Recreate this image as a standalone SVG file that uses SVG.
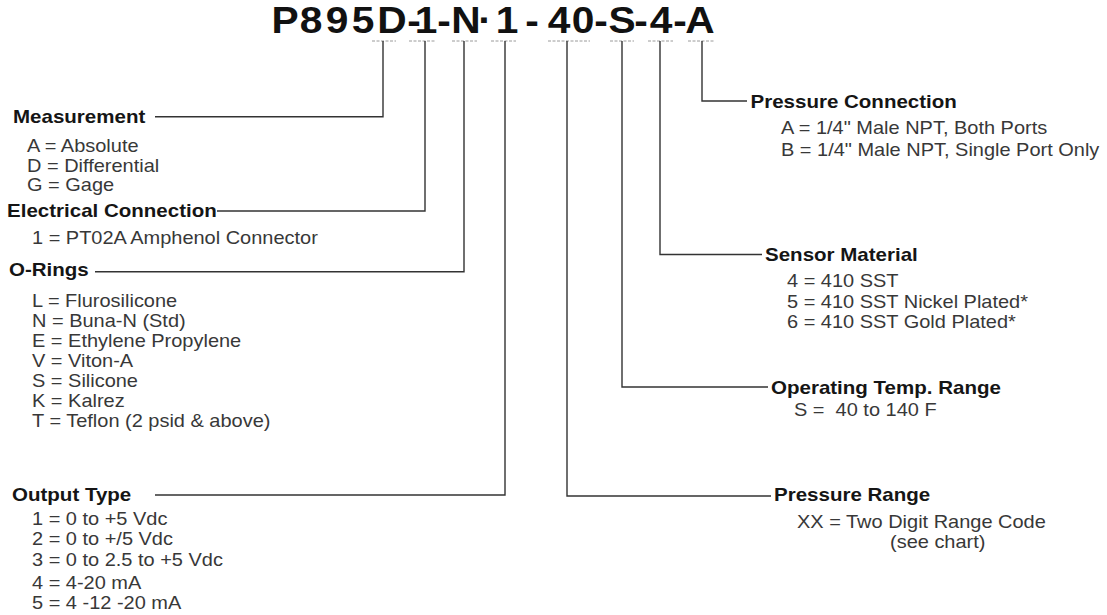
<svg xmlns="http://www.w3.org/2000/svg" width="1107" height="615" viewBox="0 0 1107 615">
  <style>
    .h { font-family: "Liberation Sans", Arial, sans-serif; font-weight: bold; font-size: 18px; fill: #151515; }
    .t { font-family: "Liberation Sans", Arial, sans-serif; font-size: 18px; fill: #383838; }
    .title { font-family: "Liberation Sans", Arial, sans-serif; font-weight: bold; font-size: 37px; fill: #111; text-anchor: middle; }
    .ln { fill: none; stroke: #333; stroke-width: 1.4; }
    .tick { fill: none; stroke: #9a9a9a; stroke-width: 1; stroke-dasharray: 3 1.5; }
  </style>
  <rect width="1107" height="615" fill="#fff"/>

  <g id="title">
    <text class="title" transform="translate(0 33) scale(1.1 1)" y="0" x="259.09 282.73 306.36 330 356.36 376.5 387.27 403.64 423.64 440.91 460.91 472.73 483.64 495.45 508.18 530 546.36 565.45 582.73 600.91 618.18 636.36">P895D-1-N·1 - 40-S-4-A</text>
  </g>

  <g id="connectors">
    <g class="tick">
      <line x1="372" y1="41" x2="396" y2="41"/>
      <line x1="409" y1="41" x2="435" y2="41"/>
      <line x1="452" y1="41" x2="477" y2="41"/>
      <line x1="491" y1="41" x2="516" y2="41"/>
      <line x1="548" y1="41" x2="590" y2="41"/>
      <line x1="610" y1="41" x2="634" y2="41"/>
      <line x1="648" y1="41" x2="673" y2="41"/>
      <line x1="688" y1="41" x2="715" y2="41"/>
    </g>
    <path class="ln" d="M383 41 V116.7 H155"/>
    <path class="ln" d="M425 41 V211 H217"/>
    <path class="ln" d="M464 41 V271.7 H95"/>
    <path class="ln" d="M505 41 V495 H155"/>
    <path class="ln" d="M567 41 V496 H771"/>
    <path class="ln" d="M622 41 V387 H768"/>
    <path class="ln" d="M660 41 V254.5 H762"/>
    <path class="ln" d="M702 41 V101 H747"/>
  </g>

  <g id="measurement">
    <text class="h" transform="translate(13 123) scale(1.14 1)">Measurement</text>
    <text class="t" transform="translate(27 152) scale(1.11 1)"><tspan x="0" y="0">A = Absolute</tspan><tspan x="0" y="20">D = Differential</tspan><tspan x="0" y="39">G = Gage</tspan></text>
  </g>

  <g id="electrical-connection">
    <text class="h" transform="translate(7 217) scale(1.14 1)">Electrical Connection</text>
    <text class="t" transform="translate(32 244) scale(1.11 1)">1 = PT02A Amphenol Connector</text>
  </g>

  <g id="o-rings">
    <text class="h" transform="translate(9 276) scale(1.14 1)">O-Rings</text>
    <text class="t" transform="translate(32 307) scale(1.11 1)"><tspan x="0" y="0">L = Flurosilicone</tspan><tspan x="0" y="20">N = Buna-N (Std)</tspan><tspan x="0" y="40">E = Ethylene Propylene</tspan><tspan x="0" y="60">V = Viton-A</tspan><tspan x="0" y="80">S = Silicone</tspan><tspan x="0" y="100">K = Kalrez</tspan><tspan x="0" y="120">T = Teflon (2 psid &amp; above)</tspan></text>
  </g>

  <g id="output-type">
    <text class="h" transform="translate(12 501) scale(1.14 1)">Output Type</text>
    <text class="t" transform="translate(32 525) scale(1.11 1)"><tspan x="0" y="0">1 = 0 to +5 Vdc</tspan><tspan x="0" y="20">2 = 0 to +/5 Vdc</tspan><tspan x="0" y="41">3 = 0 to 2.5 to +5 Vdc</tspan><tspan x="0" y="64">4 = 4-20 mA</tspan><tspan x="0" y="84">5 = 4 -12 -20 mA</tspan></text>
  </g>

  <g id="pressure-connection">
    <text class="h" transform="translate(750.5 108) scale(1.14 1)">Pressure Connection</text>
    <text class="t" transform="translate(781 134) scale(1.11 1)"><tspan x="0" y="0">A = 1/4" Male NPT, Both Ports</tspan><tspan x="0" y="22">B = 1/4" Male NPT, Single Port Only</tspan></text>
  </g>

  <g id="sensor-material">
    <text class="h" transform="translate(765 261) scale(1.14 1)">Sensor Material</text>
    <text class="t" transform="translate(787 287) scale(1.11 1)"><tspan x="0" y="0">4 = 410 SST</tspan><tspan x="0" y="21">5 = 410 SST Nickel Plated*</tspan><tspan x="0" y="41">6 = 410 SST Gold Plated*</tspan></text>
  </g>

  <g id="operating-temp">
    <text class="h" transform="translate(771 394) scale(1.14 1)">Operating Temp. Range</text>
    <text class="t" transform="translate(794 416) scale(1.11 1)" xml:space="preserve">S =  40 to 140 F</text>
  </g>

  <g id="pressure-range">
    <text class="h" transform="translate(774 501) scale(1.14 1)">Pressure Range</text>
    <text class="t" transform="translate(797 528) scale(1.11 1)">XX = Two Digit Range Code</text>
    <text class="t" transform="translate(890 548) scale(1.11 1)">(see chart)</text>
  </g>
</svg>
